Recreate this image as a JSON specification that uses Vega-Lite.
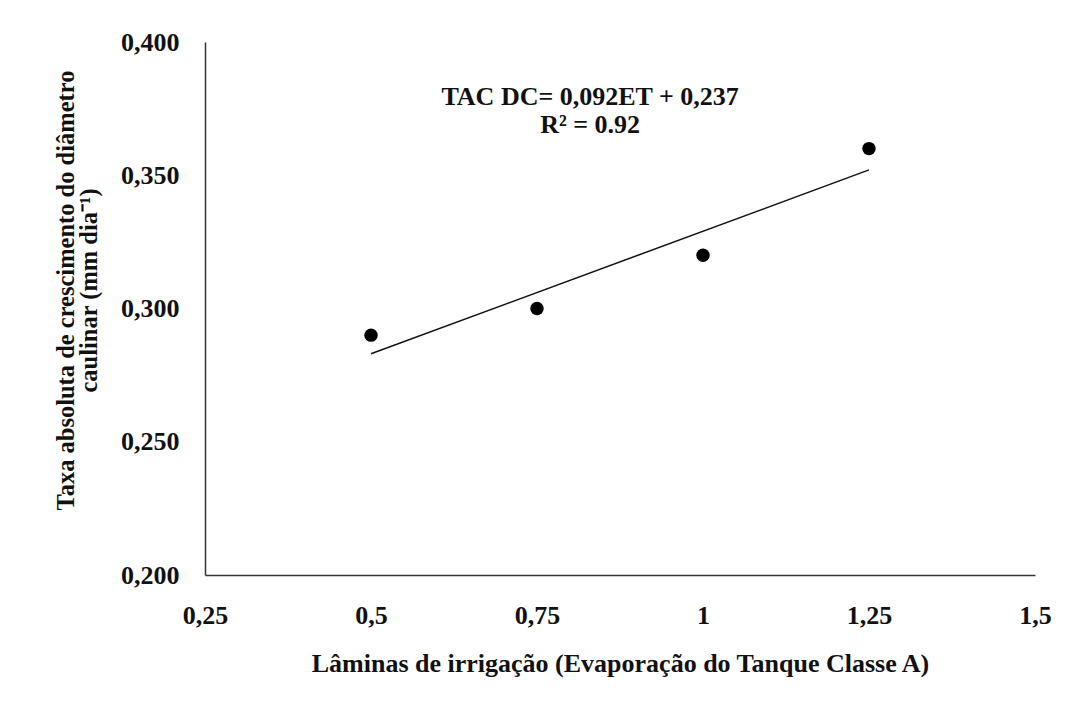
{
  "$schema": "https://vega.github.io/schema/vega-lite/v6.json",
  "width": 830,
  "height": 533,
  "autosize": {"type": "none"},
  "padding": {"left": 205, "top": 42, "right": 35, "bottom": 127},
  "background": "white",
  "config": {
    "view": {"stroke": null},
    "font": "Liberation Serif",
    "axis": {
      "labelFont": "Liberation Serif",
      "titleFont": "Liberation Serif",
      "labelFontWeight": "bold",
      "titleFontWeight": "bold",
      "labelColor": "#111",
      "titleColor": "#111",
      "domainColor": "#333",
      "domainWidth": 1.5,
      "ticks": false,
      "grid": false
    }
  },
  "datasets": {
    "obs": [
      {"lamina": 0.5, "tac": 0.29},
      {"lamina": 0.75, "tac": 0.3},
      {"lamina": 1.0, "tac": 0.32},
      {"lamina": 1.25, "tac": 0.36}
    ],
    "trend": [
      {"lamina": 0.5, "tac": 0.283},
      {"lamina": 1.25, "tac": 0.352}
    ],
    "notes": [
      {"lamina": 0.83, "tac": 0.3795, "label": "TAC DC= 0,092ET + 0,237"},
      {"lamina": 0.83, "tac": 0.369, "label": "R² = 0.92"}
    ]
  },
  "layer": [
    {
      "data": {"name": "trend"},
      "mark": {"type": "line", "color": "#111", "strokeWidth": 1.5},
      "encoding": {
        "x": {
          "field": "lamina",
          "type": "quantitative",
          "scale": {"domain": [0.25, 1.5], "nice": false, "zero": false},
          "axis": {
            "values": [0.25, 0.5, 0.75, 1, 1.25, 1.5],
            "labelExpr": "replace(format(datum.value, ''), '.', ',')",
            "labelFontSize": 26,
            "labelPadding": 27,
            "labelFlush": false,
            "title": "Lâminas de irrigação (Evaporação do Tanque Classe A)",
            "titleFontSize": 26,
            "titlePadding": 22
          }
        },
        "y": {
          "field": "tac",
          "type": "quantitative",
          "scale": {"domain": [0.2, 0.4], "nice": false, "zero": false},
          "axis": {
            "values": [0.2, 0.25, 0.3, 0.35, 0.4],
            "labelExpr": "replace(format(datum.value, '.3f'), '.', ',')",
            "labelFontSize": 26,
            "labelPadding": 26,
            "labelFlush": false,
            "title": ["Taxa absoluta de crescimento do diâmetro", "caulinar (mm dia⁻¹)"],
            "titleFontSize": 24.5,
            "titleLineHeight": 23,
            "titlePadding": 19,
            "titleY": 248
          }
        }
      }
    },
    {
      "data": {"name": "obs"},
      "mark": {"type": "point", "filled": true, "color": "#000", "size": 180, "opacity": 1},
      "encoding": {
        "x": {"field": "lamina", "type": "quantitative"},
        "y": {"field": "tac", "type": "quantitative"}
      }
    },
    {
      "data": {"name": "notes"},
      "mark": {"type": "text", "font": "Liberation Serif", "fontWeight": "bold", "fontSize": 26, "color": "#111", "align": "center", "baseline": "middle"},
      "encoding": {
        "x": {"field": "lamina", "type": "quantitative"},
        "y": {"field": "tac", "type": "quantitative"},
        "text": {"field": "label"}
      }
    }
  ]
}
